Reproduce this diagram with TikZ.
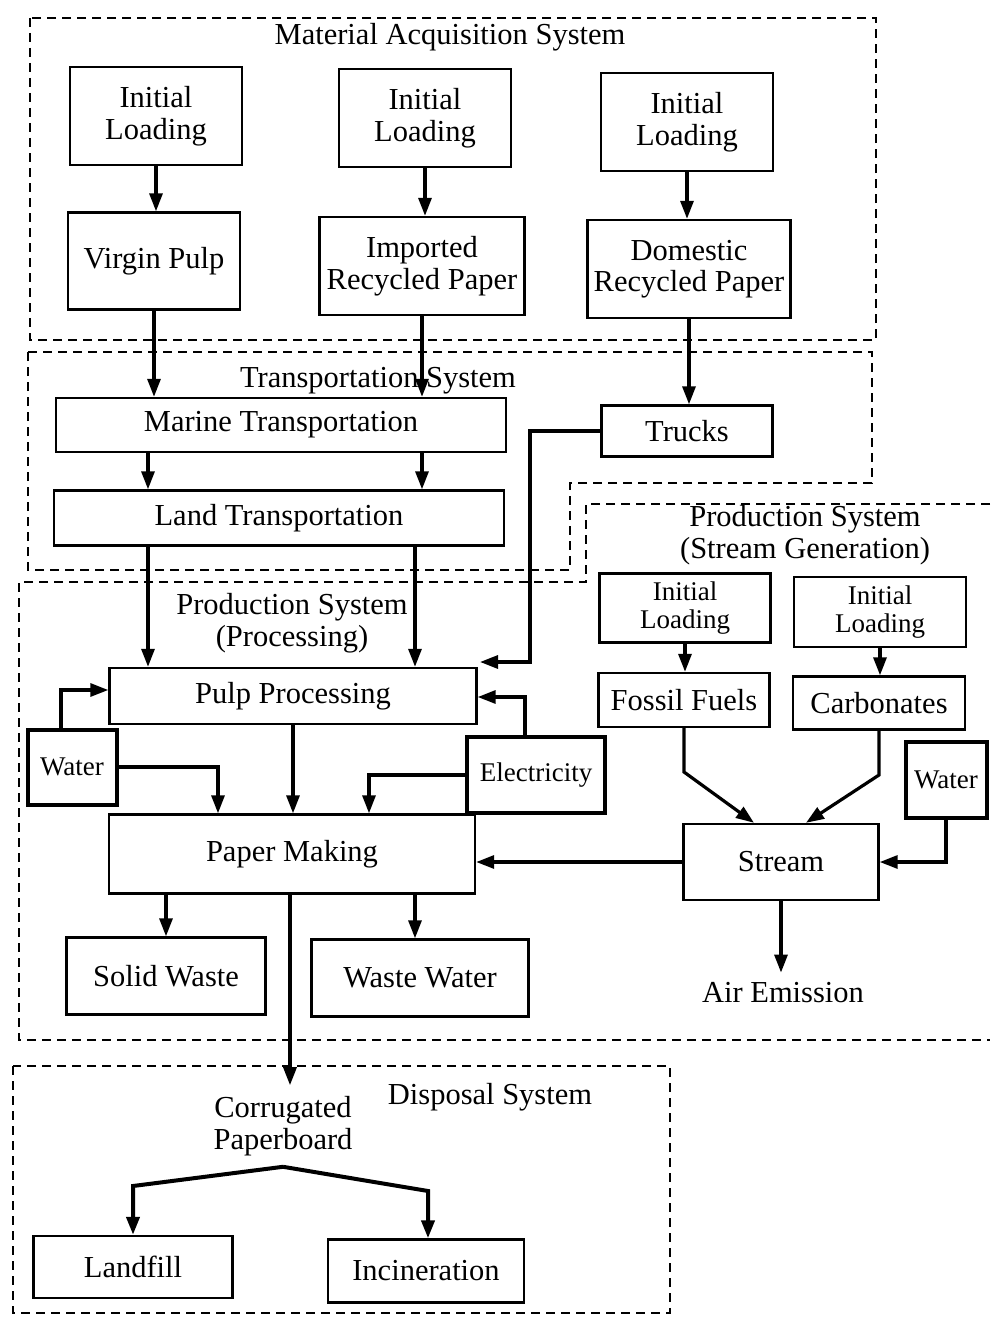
\documentclass[tikz,border=0pt]{standalone}
\usepackage{fontspec}
\setmainfont{Liberation Serif}
\usetikzlibrary{arrows.meta}
\newcommand{\bigtxt}{\fontsize{30.5pt}{31.5pt}\selectfont}
\newcommand{\smalltxt}{\fontsize{27pt}{28pt}\selectfont}

\begin{document}
\begin{tikzpicture}[x=1pt,y=-1pt,>={Triangle[length=18pt,width=13pt]},
  box/.style={draw,line width=2.4pt,align=center,inner sep=0pt,font=\bigtxt},
  heavybox/.style={box,line width=4pt,font=\smalltxt},
  lbl/.style={align=center,inner sep=3pt,font=\bigtxt},
  arr/.style={->,line width=3.2pt},
  bnd/.style={line width=1.3pt,dash pattern=on 9pt off 6pt}]
\useasboundingbox (0,0) rectangle (990,1319);

% system boundaries
\draw[bnd] (30,18) rectangle (876,340);
\draw[bnd] (28,352) -- (872,352) -- (872,483) -- (570,483) -- (570,570) -- (28,570) -- cycle;
\draw[bnd] (990,504) -- (586,504) -- (586,582) -- (19,582) -- (19,1040) -- (990,1040);
\draw[bnd] (13,1066) rectangle (670,1313);

\node[lbl] (lblmat) at (450,37) {Material Acquisition System};
\node[lbl] (lbltr) at (378,381) {Transportation System};
\node[lbl] (lblproc) at (292,623) {Production System\\(Processing)};
\node[lbl] (lblstm) at (805,535) {Production System\\(Stream Generation)};
\node[lbl] (lbldisp) at (490,1097) {Disposal System};

% material acquisition
\node[box,minimum width=172,minimum height=98] (il1) at (156,116) {Initial\\Loading};
\node[box,minimum width=172,minimum height=98] (il2) at (425,118) {Initial\\Loading};
\node[box,minimum width=172,minimum height=98] (il3) at (687,122) {Initial\\Loading};
\node[box,minimum width=172,minimum height=97] (vp) at (154,261) {Virgin Pulp};
\node[box,minimum width=205,minimum height=98] (irp) at (422,266) {Imported\\Recycled Paper};
\node[box,minimum width=203,minimum height=98] (drp) at (689,269) {Domestic\\Recycled Paper};

% transportation
\node[box,minimum width=450,minimum height=54] (mar) at (281,425) {Marine Transportation};
\node[box,minimum width=450,minimum height=55] (land) at (279,518) {Land Transportation};
\node[box,minimum width=171,minimum height=51] (trk) at (687,431) {Trucks};

% production (processing)
\node[box,minimum width=367,minimum height=56] (pulp) at (293,696) {Pulp Processing};
\node[heavybox,minimum width=89,minimum height=75] (wat1) at (72,767) {Water};
\node[heavybox,minimum width=138,minimum height=76] (elec) at (536,775) {Electricity};
\node[box,minimum width=366,minimum height=79] (pm) at (292,854) {Paper Making};
\node[box,minimum width=199,minimum height=77] (sw) at (166,976) {Solid Waste};
\node[box,minimum width=217,minimum height=77] (ww) at (420,978) {Waste Water};

% production (stream generation)
\node[box,font=\smalltxt,minimum width=171,minimum height=69] (il4) at (685,608) {Initial\\Loading};
\node[box,font=\smalltxt,minimum width=172,minimum height=70] (il5) at (880,612) {Initial\\Loading};
\node[box,minimum width=171,minimum height=54] (ff) at (684,700) {Fossil Fuels};
\node[box,minimum width=172,minimum height=53] (carb) at (879,703) {Carbonates};
\node[heavybox,minimum width=81,minimum height=76] (wat2) at (946,780) {Water};
\node[box,minimum width=195,minimum height=76] (stm) at (781,862) {Stream};
\node[lbl,inner sep=10pt] (air) at (783,993) {Air Emission};

% disposal
\node[lbl,inner sep=11pt] (cp) at (283,1126) {Corrugated\\Paperboard};
\node[box,minimum width=199,minimum height=62] (lf) at (133,1267) {Landfill};
\node[box,minimum width=196,minimum height=63] (inc) at (426,1271) {Incineration};

% helper columns and bends
\coordinate (cA) at (148,0);
\coordinate (cC) at (415,0);
\coordinate (cW) at (218,0);
\coordinate (cE) at (369,0);
\coordinate (cG) at (290,0);
\coordinate (trkbend) at (530,662);
\coordinate (trkend) at (480,662);
\coordinate (w1up) at (61,690);
\coordinate (eup) at (525,697);
\coordinate (ffbend) at (684,772);
\coordinate (ffin) at (754,0);
\coordinate (cbbend) at (879,775);
\coordinate (cbin) at (806,0);
\coordinate (lfb) at (133,1186);
\coordinate (incb) at (428,1191);

\draw[arr] (il1.south) -- (il1.south |- vp.north);
\draw[arr] (il2.south) -- (il2.south |- irp.north);
\draw[arr] (il3.south) -- (il3.south |- drp.north);
\draw[arr] (vp.south) -- (vp.south |- mar.north);
\draw[arr] (irp.south) -- (irp.south |- mar.north);
\draw[arr] (drp.south) -- (drp.south |- trk.north);
\draw[arr] (mar.south -| cA) -- (land.north -| cA);
\draw[arr] (irp.south |- mar.south) -- (irp.south |- land.north);
\draw[arr] (land.south -| cA) -- (pulp.north -| cA);
\draw[arr] (land.south -| cC) -- (pulp.north -| cC);
\draw[arr] (trk.west) -| (trkbend) -- (trkend);

\draw[arr] (wat1.north -| w1up) |- (pulp.west |- w1up);
\draw[arr] (wat1.east) -| (pm.north -| cW);
\draw[arr] (pulp.south) -- (pulp.south |- pm.north);
\draw[arr] (elec.north -| eup) |- (pulp.east |- eup);
\draw[arr] (elec.west) -| (pm.north -| cE);
\draw[arr] (pm.south -| sw.north) -- (sw.north);
\draw[arr] (pm.south -| cC) -- (ww.north -| cC);
\draw[arr] (pm.south -| cG) -- (cp.north -| cG);

\draw[arr] (il4.south) -- (il4.south |- ff.north);
\draw[arr] (il5.south) -- (il5.south |- carb.north);
\draw[arr] (ff.south) -- (ffbend) -- (stm.north -| ffin);
\draw[arr] (carb.south) -- (cbbend) -- (stm.north -| cbin);
\draw[arr] (wat2.south) |- (stm.east);
\draw[arr] (stm.west) -- (pm.east |- stm.west);
\draw[arr] (stm.south) -- (stm.south |- air.north);

\draw[arr,line width=4pt] (cp.south) -- (lfb) -- (lf.north -| lfb);
\draw[arr,line width=4pt] (cp.south) -- (incb) -- (inc.north -| incb);
\end{tikzpicture}
\end{document}
